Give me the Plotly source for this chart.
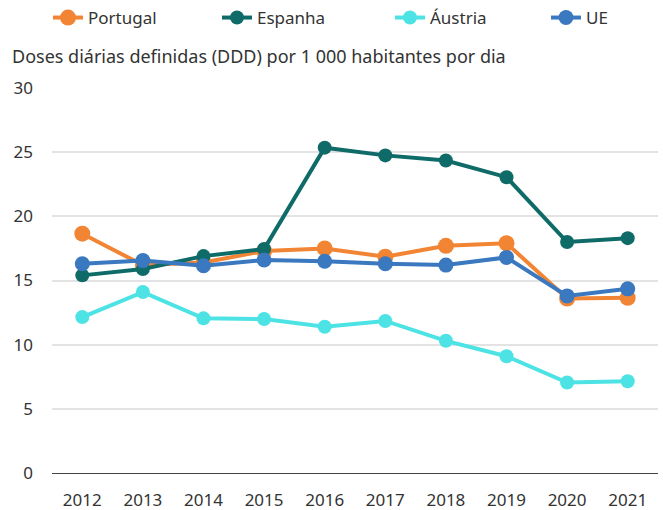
import plotly.graph_objects as go

years = ["2012", "2013", "2014", "2015", "2016", "2017", "2018", "2019", "2020", "2021"]
portugal = [18.65, 16.2, 16.4, 17.3, 17.5, 16.85, 17.7, 17.9, 13.6, 13.65]
espanha = [15.4, 15.9, 16.9, 17.45, 25.35, 24.75, 24.35, 23.05, 18.0, 18.3]
austria = [12.15, 14.1, 12.05, 12.0, 11.4, 11.85, 10.3, 9.1, 7.05, 7.15]
ue = [16.3, 16.55, 16.15, 16.6, 16.5, 16.3, 16.2, 16.8, 13.8, 14.35]
y_ticks = [0, 5, 10, 15, 20, 25, 30]

series = [
    ("Portugal", portugal, "#F28534", 16),
    ("Espanha", espanha, "#0E6B68", 14),
    ("Áustria", austria, "#4DE3E5", 14),
    ("UE", ue, "#3A78BF", 15),
]

W, H = 663, 510
L, R, T, B = 52, 5, 88, 37
pw, ph = W - L - R, H - T - B
legend_x_px = [48, 217, 390, 546]
font_family = "'Noto Sans', sans-serif"

fig = go.Figure()
legends = {}
for i, (name, vals, color, msize) in enumerate(series):
    lname = "legend" if i == 0 else f"legend{i + 1}"
    fig.add_trace(go.Scatter(
        x=years, y=vals, name=name, mode="lines+markers",
        line=dict(color=color, width=4),
        marker=dict(color=color, size=msize),
        legend=lname,
    ))
    legends[lname] = dict(orientation="h", x=legend_x_px[i] / W, xanchor="left",
                          xref="container", y=1.0, yanchor="top", yref="container",
                          font=dict(size=17, color="#333333"),
                          bgcolor="rgba(0,0,0,0)")

fig.update_layout(
    width=W, height=H,
    margin=dict(l=L, r=R, t=T, b=B, autoexpand=False),
    plot_bgcolor="white", paper_bgcolor="white",
    font=dict(family=font_family, size=17, color="#333333"),
    showlegend=True,
    xaxis=dict(type="category", range=[-0.5, 9.5], showgrid=False, showline=True,
               linecolor="#444444", linewidth=1, ticks="", tickfont=dict(size=17),
               zeroline=False, automargin=False, ticklabelstandoff=12),
    yaxis=dict(range=[0, 30], tickvals=y_ticks, showgrid=True, gridcolor="#E3E3E3",
               gridwidth=1.5, zeroline=False, showline=False, ticks="",
               tickfont=dict(size=17), automargin=False, ticklabelstandoff=18),
    annotations=[dict(text="Doses diárias definidas (DDD) por 1 000 habitantes por dia",
                      xref="paper", yref="paper", x=(10 - L) / pw, xanchor="left",
                      y=(H - B - 56) / ph, yanchor="middle", showarrow=False,
                      font=dict(size=18, color="#333333"))],
    **legends,
)

fig.write_html("out.html", config={"displayModeBar": False},
               post_script="document.body.style.margin='0';")
